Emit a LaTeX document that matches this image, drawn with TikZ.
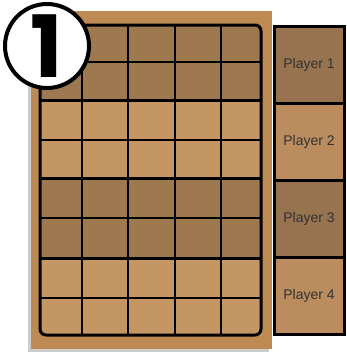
\documentclass[tikz,border=0pt]{standalone}
\usepackage{fontspec}
\setmainfont{Liberation Sans}
\newfontfamily\badgefont{Poppins}[UprightFont=* Bold]
\usetikzlibrary{positioning}
\definecolor{paper}{RGB}{190,138,84}
\definecolor{darkcell}{RGB}{158,120,78}
\definecolor{lightcell}{RGB}{196,150,100}
\definecolor{darkslot}{RGB}{152,115,80}
\definecolor{lightslot}{RGB}{186,140,94}
\tikzset{
  slot/.style={draw, line width=3pt, minimum width=70pt, minimum height=77pt, outer sep=0pt, inner sep=0pt, font=\fontsize{14}{16}\selectfont, text=black!80},
  thin/.style={line width=2pt},
  thick/.style={line width=3pt}
}
\begin{document}
\begin{tikzpicture}[x=1pt, y=-1pt]
\useasboundingbox (0,0) rectangle (346,354);
% paper sheet with a faint shadow
\fill[gray!40] (28,14) rectangle (269,352);
\fill[paper] (31,11) rectangle (272,349);
% row bands
\fill[darkcell] (40,25) rectangle (261,100);
\fill[lightcell] (40,100) rectangle (261,178);
\fill[darkcell] (40,178) rectangle (261,258);
\fill[lightcell] (40,258) rectangle (261,335);
% grid
\draw[thin] (82,25) -- (82,335);
\draw[thin] (128,25) -- (128,335);
\draw[thin] (175,25) -- (175,335);
\draw[thin] (221,25) -- (221,335);
\draw[thin] (40,62) -- (261,62);
\draw[thick] (40,100) -- (261,100);
\draw[thin] (40,140) -- (261,140);
\draw[thick] (40,178) -- (261,178);
\draw[thin] (40,218) -- (261,218);
\draw[thick] (40,258) -- (261,258);
\draw[thin] (40,298) -- (261,298);
\draw[thick, rounded corners=6pt] (40,25) rectangle (261,335);
% player slots
\node[slot, fill=darkslot] (P1) at (309,64.5) {Player 1};
\node[slot, fill=lightslot, below=0pt of P1] (P2) {Player 2};
\node[slot, fill=darkslot, below=0pt of P2] (P3) {Player 3};
\node[slot, fill=lightslot, below=0pt of P3] (P4) {Player 4};
% step badge
\node[draw, circle, line width=4pt, fill=white, minimum size=84pt, inner sep=0pt, font=\badgefont\fontsize{86}{86}\selectfont] (badge) at (47,46) {1};
\end{tikzpicture}
\end{document}
